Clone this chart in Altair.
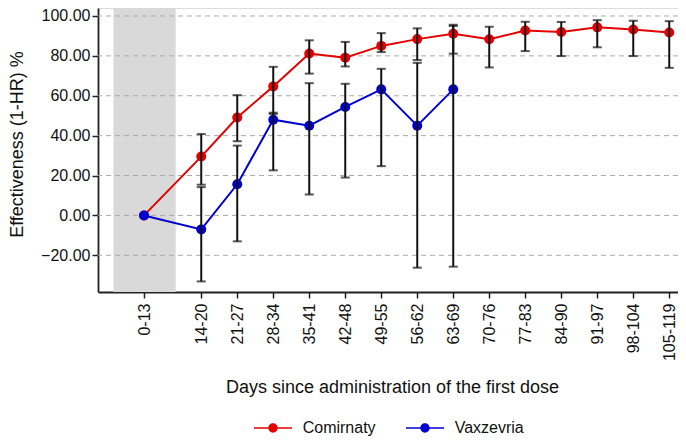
import altair as alt
import pandas as pd

# ---- data ----
labels = ["0-13", "14-20", "21-27", "28-34", "35-41", "42-48", "49-55", "56-62",
          "63-69", "70-76", "77-83", "84-90", "91-97", "98-104", "105-119"]
xpos = [0, 1.59, 2.59, 3.59, 4.59, 5.59, 6.59, 7.59, 8.59, 9.59, 10.59, 11.59,
        12.59, 13.59, 14.59]

com_eff = [0, 29.5, 49.1, 64.7, 81.2, 79.1, 85.0, 88.4, 91.1, 88.3, 92.7, 92.0, 94.3, 93.2, 91.7]
com_lo = [None, 15.4, 37.2, 50.9, 71.1, 74.7, 81.9, 77.9, 81.1, 74.2, 82.4, 79.9, 84.3, 79.9, 74.0]
com_hi = [None, 40.8, 60.3, 74.5, 87.8, 87.0, 91.4, 93.8, 95.6, 94.6, 97.1, 97.0, 97.9, 97.6, 97.4]

vax_eff = [0, -7.0, 15.6, 48.0, 45.0, 54.4, 63.2, 45.0, 63.2]
vax_lo = [None, -33.1, -13.0, 22.6, 10.5, 19.0, 24.7, -26.2, -25.7]
vax_hi = [None, 14.2, 35.0, 51.5, 66.3, 66.0, 73.5, 76.5, 95.0]

series = ["Comirnaty", "Vaxzevria"]
colors = ["#e50000", "#0000d0"]

band_start = [-0.85]
band_end = [0.88]

y_ticks = [-20, 0, 20, 40, 60, 80, 100]
y_domain = [-38.4, 104.0]
x_domain = [-1.278, 14.833]

# ---- tables ----
rows = []
for name, eff, lo, hi in [("Comirnaty", com_eff, com_lo, com_hi),
                          ("Vaxzevria", vax_eff, vax_lo, vax_hi)]:
    for i, v in enumerate(eff):
        rows.append({"series": name, "pos": xpos[i], "label": labels[i],
                     "eff": v, "lo": lo[i], "hi": hi[i]})
df = pd.DataFrame(rows)
err = df.dropna(subset=["lo", "hi"])
band = pd.DataFrame({"start": band_start, "end": band_end})
grid = pd.DataFrame({"y": y_ticks})

label_expr = ("[" + ",".join("'" + l + "'" for l in labels) + "][indexof(["
              + ",".join(str(p) for p in xpos) + "], datum.value)]")

FONT = "Liberation Sans"

xscale = alt.Scale(domain=x_domain, nice=False, zero=False)
yscale = alt.Scale(domain=y_domain, nice=False, zero=False)

x_axis = alt.Axis(values=xpos, labelExpr=label_expr, labelAngle=-90, labelAlign="right",
                  labelBaseline="middle", labelFontSize=16, labelFont=FONT, labelColor="#111",
                  labelPadding=5, tickSize=6, tickColor="#222", tickWidth=1.5,
                  domainColor="#222", domainWidth=1.8, grid=False,
                  title="Days since administration of the first dose",
                  titleFont=FONT, titleFontSize=18, titleFontWeight="normal", titleColor="#111",
                  titleX=294, titleY=100, titleBaseline="alphabetic", titleAlign="center")
y_axis = alt.Axis(values=y_ticks, format=".2f", labelFontSize=16, labelFont=FONT,
                  labelColor="#111", labelPadding=2, tickSize=6, tickColor="#222", tickWidth=1.5,
                  domainColor="#222", domainWidth=1.8, grid=False,
                  title="Effectiveness (1-HR) %", titleFont=FONT, titleFontSize=18,
                  titleFontWeight="normal", titleColor="#111", titleAngle=-90,
                  titleX=-81, titleY=136, titleAlign="center", titleBaseline="middle")

base_x = alt.X("pos:Q", scale=xscale, axis=x_axis)

band_layer = alt.Chart(band).mark_rect(color="#d9d9d9").encode(
    x=alt.X("start:Q", scale=xscale, axis=x_axis), x2="end:Q")

grid_layer = alt.Chart(grid).mark_rule(color="#aaaaaa", strokeWidth=1, strokeDash=[5, 4]).encode(
    y=alt.Y("y:Q", scale=yscale, axis=y_axis))

line_layers = [
    alt.Chart(df).transform_filter(alt.datum.series == name).mark_line(
        strokeWidth=2, color=col).encode(
        x=base_x, y=alt.Y("eff:Q", scale=yscale, axis=y_axis))
    for name, col in zip(series, colors)
]

legend_path = ("M-2.375,-0.1H2.375V0.1H-2.375Z "
               "M0.58,0A0.58,0.58,0,1,1,-0.58,0A0.58,0.58,0,1,1,0.58,0Z")

point_layer = alt.Chart(df).mark_circle(size=100, opacity=1).encode(
    x=base_x, y=alt.Y("eff:Q", scale=yscale, axis=y_axis),
    color=alt.Color("series:N", scale=alt.Scale(domain=series, range=colors),
                    legend=alt.Legend(title=None, orient="none", direction="horizontal",
                                      legendX=167, legendY=412, symbolType=legend_path,
                                      symbolSize=256, symbolStrokeWidth=0,
                                      labelFont=FONT, labelFontSize=16, labelColor="#111",
                                      labelOffset=21.7, columnPadding=30, padding=0,
                                      symbolOpacity=1)))

rule_layer = alt.Chart(err).mark_rule(color="#111", strokeWidth=2).encode(
    x=base_x, y=alt.Y("lo:Q", scale=yscale, axis=y_axis), y2="hi:Q")

cap_lo = alt.Chart(err).mark_tick(color="#111", orient="horizontal", size=9, thickness=2).encode(
    x=base_x, y=alt.Y("lo:Q", scale=yscale, axis=y_axis))
cap_hi = alt.Chart(err).mark_tick(color="#111", orient="horizontal", size=9, thickness=2).encode(
    x=base_x, y=alt.Y("hi:Q", scale=yscale, axis=y_axis))

chart = alt.layer(band_layer, grid_layer, *line_layers, point_layer, rule_layer, cap_lo, cap_hi).properties(
    width=580, height=284,
    autosize=alt.AutoSizeParams(type="none"),
    padding={"left": 90, "top": 0, "right": 0, "bottom": 146},
).configure_view(stroke=None).configure(background="white")

chart.save("out.html", embed_options={"renderer": "svg", "actions": False})
